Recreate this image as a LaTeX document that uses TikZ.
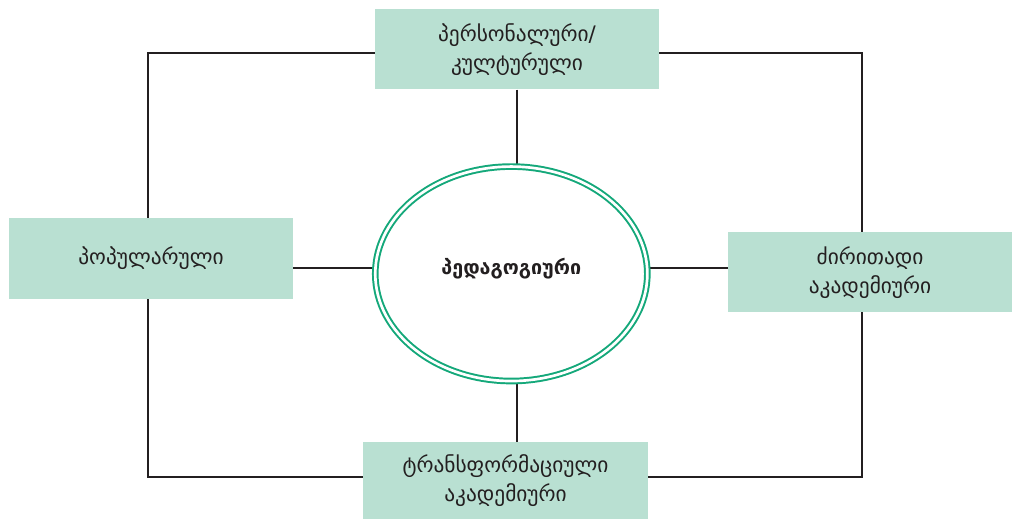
\documentclass[tikz,border=0pt]{standalone}
\usepackage{fontspec}
\setmainfont{DejaVu Sans}
\usetikzlibrary{shapes.geometric,backgrounds}

\definecolor{boxgreen}{HTML}{B9E0D2}
\definecolor{ringgreen}{HTML}{14A87A}
\definecolor{linedark}{HTML}{231F20}

\tikzset{
  greenbox/.style={fill=boxgreen, text=linedark, minimum width=7.1cm, minimum height=2cm,
    inner sep=0pt, align=center, font=\fontsize{15.2}{21}\selectfont},
  link/.style={draw=linedark, line width=1.5pt},
  ring/.style={ellipse, draw=ringgreen, fill=white, line width=1.4pt, double,
    double distance=1.9pt, minimum width=6.8cm, minimum height=5.36cm,
    inner sep=0pt, outer sep=0pt}
}

\begin{document}
\begin{tikzpicture}[x=0.025cm,y=-0.025cm]
\useasboundingbox (0,0) rectangle (1022,519);

\node[greenbox] (personal) at (517,49.4) {პერსონალური/\\კულტურული};
\node[greenbox] (popular) at (151,258.5) {პოპულარული};
\node[greenbox] (core) at (870,272.4) {ძირითადი\\აკადემიური};
\node[greenbox, minimum height=1.925cm] (transform) at (505.5,480.5) {ტრანსფორმაციული\\აკადემიური};
\node[ring, label={[font=\fontsize{14}{21}\selectfont\bfseries, text=linedark, yshift=4pt]center:პედაგოგიური}]
  (pedagogical) at (511.3,273.8) {};

\coordinate (hline) at (517,268.3);
\coordinate (tl) at (148,53);
\coordinate (tr) at (862,53);
\coordinate (br) at (862,477);
\coordinate (bl) at (148,477);

\begin{scope}[on background layer]
\draw[link] (tl) -- (tr) -- (br) -- (bl) -- cycle;
\draw[link] (personal.south) -- (personal.south |- pedagogical.north);
\draw[link] (popular.east |- hline) -- (hline -| pedagogical.west);
\draw[link] (hline -| pedagogical.east) -- (hline -| core.west);
\draw[link] (hline |- pedagogical.south) -- (hline |- transform.north);
\end{scope}

\end{tikzpicture}
\end{document}
